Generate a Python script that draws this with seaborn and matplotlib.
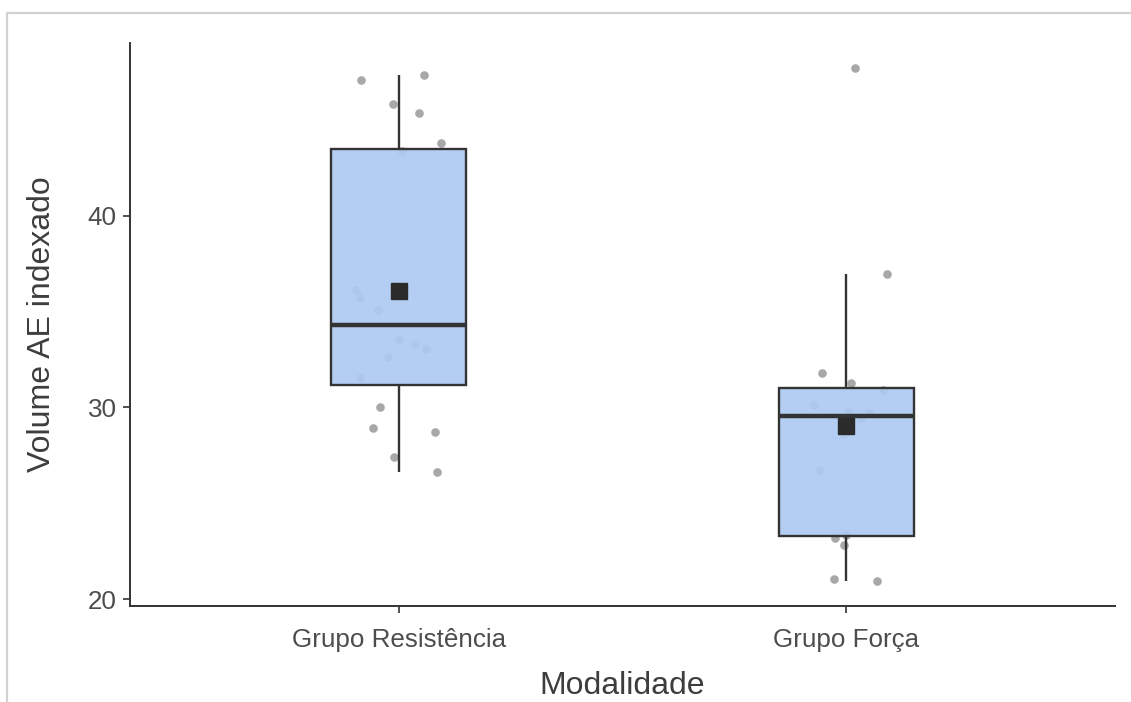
import numpy as np
import pandas as pd
import matplotlib
matplotlib.use("Agg")
import matplotlib.pyplot as plt
from matplotlib.lines import Line2D
import seaborn as sns

# ---- data ----
categories = ["Grupo Resistência", "Grupo Força"]
resistencia = [47.07, 47.31, 45.83, 45.35, 43.79, 43.35, 36.35, 35.71, 35.07, 33.54,
               33.31, 33.07, 32.64, 31.55, 30.02, 28.73, 28.91, 27.43, 26.63, 36.10]
forca = [47.68, 36.94, 31.81, 31.30, 30.90, 30.15, 29.75, 29.71, 29.45, 28.60,
         26.74, 23.36, 23.18, 22.81, 21.08, 20.94]
y_ticks = [20, 30, 40]
x_title = "Modalidade"
y_title = "Volume AE indexado"

df = pd.DataFrame({
    "Modalidade": [categories[0]] * len(resistencia) + [categories[1]] * len(forca),
    "Volume": resistencia + forca,
})

sns.set_theme(style="white")
plt.rcParams["font.family"] = ["Liberation Sans", "DejaVu Sans"]

W, H = 1131, 702
fig = plt.figure(figsize=(W / 100, H / 100), dpi=100)
ax = fig.add_axes([130 / W, 1 - 606 / H, (1115 - 130) / W, (606 - 43) / H])

np.random.seed(7)
sns.stripplot(data=df, x="Modalidade", y="Volume", order=categories, jitter=0.1,
              color="#9c9c9c", alpha=0.88, size=6.2, linewidth=0, zorder=1, ax=ax)

line_c = "#333333"
sns.boxplot(data=df, x="Modalidade", y="Volume", order=categories, width=0.3,
            showfliers=False, showcaps=False, showmeans=True, saturation=1,
            color="#aecaf2", linecolor=line_c, linewidth=1.7,
            medianprops=dict(color=line_c, linewidth=3.2),
            meanprops=dict(marker="s", markerfacecolor="#2b2b2b",
                           markeredgecolor="#2b2b2b", markersize=12),
            zorder=3, ax=ax)
for p in ax.patches:
    p.set_facecolor((0.682, 0.792, 0.949, 0.92))
    p.set_edgecolor(line_c)

ax.set_xlim(-0.6, 1.6)
ax.set_ylim(19.65, 49.0)
ax.set_yticks(y_ticks)

for s in ["top", "right"]:
    ax.spines[s].set_visible(False)
for s in ["left", "bottom"]:
    ax.spines[s].set_color(line_c)
    ax.spines[s].set_linewidth(1.4)

ax.tick_params(axis="both", bottom=True, left=True, direction="out", length=5,
               width=1.2, color=line_c, labelsize=18.7, labelcolor="#4d4d4d")
ax.tick_params(axis="x", pad=10.5)
ax.tick_params(axis="y", pad=4.5)

ax.set_xlabel(x_title, fontsize=23, color="#3d3d3d", labelpad=14)
ax.set_ylabel(y_title, fontsize=23, color="#3d3d3d", labelpad=22)

# light gray screenshot frame (top and left)
fx, fy = 7 / W, 1 - 13 / H
fig.add_artist(Line2D([fx, 1], [fy, fy], color="#d2d2d2", lw=1.6, transform=fig.transFigure))
fig.add_artist(Line2D([fx, fx], [fy, 0], color="#d2d2d2", lw=1.6, transform=fig.transFigure))

fig.savefig("out.png", dpi=100)
